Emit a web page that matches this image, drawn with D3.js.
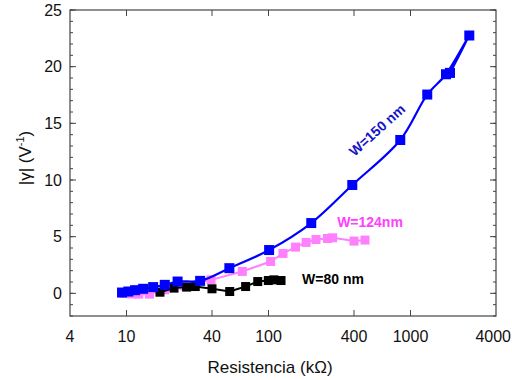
<!DOCTYPE html>
<html><head><meta charset="utf-8">
<script src="https://cdn.jsdelivr.net/npm/d3@7"></script>
<style>body{margin:0;background:#fff}svg{display:block;font-family:"Liberation Sans",Arial,sans-serif}</style>
</head><body>
<svg id="c" width="512" height="380"></svg>
<script>
const xTicks = [4, 10, 40, 100, 400, 1000, 4000];
const yTicks = [0, 5, 10, 15, 20, 25];

const blueR = [9.3, 10.3, 11.5, 13.1, 15.4, 18.6, 22.9, 33, 53, 101, 200, 389, 847, 1312, 1778, 2594, 1897];
const blueG = [0.07, 0.16, 0.28, 0.40, 0.55, 0.75, 1.04, 1.10, 2.22, 3.82, 6.20, 9.56, 13.53, 17.54, 19.33, 22.75, 19.45];

const pinkR = [9.6, 10.8, 12.2, 14.5, 18.5, 25.4, 39.4, 65.4, 103.5, 126.5, 155, 184, 216, 260, 283, 400, 478];
const pinkG = [0.0, -0.05, -0.07, -0.07, 0.31, 0.66, 1.19, 1.93, 2.81, 3.52, 4.08, 4.49, 4.75, 4.84, 4.9, 4.61, 4.7];

const blackR = [17.2, 21.6, 26.5, 30.5, 40, 53.3, 69, 84, 99.7, 109, 122.5];
const blackG = [0.1, 0.46, 0.55, 0.6, 0.4, 0.16, 0.6, 1.04, 1.13, 1.19, 1.13];

const svg = d3.select("#c");
const L = 70, R = 496, T = 10, B = 316;
const x = d3.scaleLog().domain([4, 4000]).range([L, R]);
const y = d3.scaleLinear().domain([-2, 25]).range([B, T]);
const axisCol = "#444";

// frame
svg.append("rect").attr("x", L).attr("y", T).attr("width", R - L).attr("height", B - T)
  .attr("fill", "none").attr("stroke", axisCol).attr("stroke-width", 1.2);

// axes with inward ticks
const minorY = d3.range(-2, 26, 1);
function yAxisG(side) {
  const g = svg.append("g");
  const dir = side === "left" ? 1 : -1;
  const x0 = side === "left" ? L : R;
  g.selectAll("line.mi").data(minorY).join("line")
    .attr("x1", x0).attr("x2", x0 + dir * 3)
    .attr("y1", d => y(d)).attr("y2", d => y(d))
    .attr("stroke", axisCol).attr("stroke-width", 1);
  g.selectAll("line.ma").data(yTicks).join("line")
    .attr("x1", x0).attr("x2", x0 + dir * 6)
    .attr("y1", d => y(d)).attr("y2", d => y(d))
    .attr("stroke", axisCol).attr("stroke-width", 1);
}
yAxisG("left"); yAxisG("right");
[B, T].forEach((y0, i) => {
  const dir = i === 0 ? -1 : 1;
  svg.append("g").selectAll("line").data(xTicks.slice(1, -1)).join("line")
    .attr("x1", d => x(d)).attr("x2", d => x(d))
    .attr("y1", y0).attr("y2", y0 + dir * 6)
    .attr("stroke", axisCol).attr("stroke-width", 1);
});

// tick labels
svg.append("g").selectAll("text").data(yTicks).join("text")
  .attr("x", 62).attr("y", d => y(d)).attr("dy", "0.35em")
  .attr("text-anchor", "end").attr("font-size", 16).attr("fill", "#111").text(d => d);
const lastX = xTicks[xTicks.length - 1];
svg.append("g").selectAll("text").data(xTicks).join("text")
  .attr("x", d => d === lastX ? 511 : x(d)).attr("y", 336).attr("dy", "0.35em")
  .attr("text-anchor", d => d === lastX ? "end" : "middle")
  .attr("font-size", 16).attr("fill", "#111").text(d => d);

// titles
svg.append("text").attr("x", 270).attr("y", 373).attr("text-anchor", "middle")
  .attr("font-size", 17).attr("fill", "#111").text("Resistencia (kΩ)");
const yt = svg.append("text").attr("transform", "translate(31,158) rotate(-90)")
  .attr("text-anchor", "middle").attr("font-size", 17).attr("fill", "#111");
yt.append("tspan").text("|γ| (V");
yt.append("tspan").attr("font-size", 11).attr("dy", -7).text("-1");
yt.append("tspan").attr("dy", 7).text(")");

function series(R_, G_, col, lw, size, curve) {
  const pts = R_.map((r, i) => [r, G_[i]]);
  const line = d3.line().x(d => x(d[0])).y(d => y(d[1])).curve(curve);
  svg.append("path").attr("d", line(pts)).attr("fill", "none")
    .attr("stroke", col).attr("stroke-width", lw);
  svg.append("g").selectAll("rect").data(pts).join("rect")
    .attr("x", d => x(d[0]) - size / 2).attr("y", d => y(d[1]) - size / 2)
    .attr("width", size).attr("height", size).attr("fill", col);
}
series(pinkR, pinkG, "#ff80ff", 2, 9, d3.curveLinear);
series(blackR, blackG, "#000", 2, 9, d3.curveLinear);
series(blueR, blueG, "#0000ff", 2.2, 10, d3.curveCatmullRom.alpha(0.5));

// labels
svg.append("text").attr("transform", "translate(377,130) rotate(-42)")
  .attr("text-anchor", "middle").attr("dy", "0.35em").attr("font-size", 14).attr("font-weight", "bold")
  .attr("fill", "#1515c8").text("W=150 nm");
svg.append("text").attr("x", 370).attr("y", 222).attr("dy", "0.35em")
  .attr("text-anchor", "middle").attr("font-size", 14).attr("font-weight", "bold")
  .attr("fill", "#ff40ff").text("W=124nm");
svg.append("text").attr("x", 333).attr("y", 279).attr("dy", "0.35em")
  .attr("text-anchor", "middle").attr("font-size", 14).attr("font-weight", "bold")
  .attr("fill", "#000").text("W=80 nm");
</script>
</body></html>
